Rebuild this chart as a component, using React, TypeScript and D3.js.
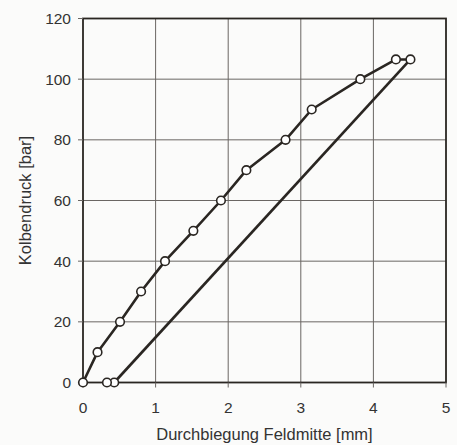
import React from "react";
import * as d3 from "d3";

const loadX = [0, 0.2, 0.51, 0.8, 1.13, 1.52, 1.9, 2.25, 2.79, 3.15, 3.82, 4.31, 4.51];
const loadY = [0, 10, 20, 30, 40, 50, 60, 70, 80, 90, 100, 106.5, 106.5];
const unloadX = [4.51, 0.43, 0.33];
const unloadY = [106.5, 0, 0];
const xTicks = [0, 1, 2, 3, 4, 5];
const yTicks = [0, 20, 40, 60, 80, 100, 120];
const xTitle = "Durchbiegung Feldmitte [mm]";
const yTitle = "Kolbendruck [bar]";

export default function App() {
  const W = 457, H = 445;
  const L = 83, R = 446, T = 18.5, B = 382.5;
  const x = d3.scaleLinear().domain([0, 5]).range([L, R]);
  const y = d3.scaleLinear().domain([0, 120]).range([B, T]);
  const line = d3.line<[number, number]>().x(d => x(d[0])).y(d => y(d[1]));
  const load: [number, number][] = loadX.map((v, i) => [v, loadY[i]]);
  const unload: [number, number][] = unloadX.map((v, i) => [v, unloadY[i]]);
  const ink = "#2a2622";
  const font = "'Liberation Sans', Arial, sans-serif";
  return (
    <svg width={W} height={H} style={{ position: "absolute", left: 0, top: 0, background: "#fbfbfa" }}>
      <rect x={0} y={0} width={W} height={H} fill="#fbfbfa" />
      {xTicks.slice(1, -1).map(t => (
        <line key={"gx" + t} x1={x(t)} x2={x(t)} y1={T} y2={B} stroke="#6a6663" strokeWidth={1} />
      ))}
      {yTicks.slice(1, -1).map(t => (
        <line key={"gy" + t} x1={L} x2={R} y1={y(t)} y2={y(t)} stroke="#6a6663" strokeWidth={1} />
      ))}
      <rect x={L} y={T} width={R - L} height={B - T} fill="none" stroke={ink} strokeWidth={1.8} />
      {xTicks.map(t => (
        <line key={"tx" + t} x1={x(t)} x2={x(t)} y1={B} y2={B + 5} stroke="#6a6663" strokeWidth={1} />
      ))}
      {yTicks.map(t => (
        <line key={"ty" + t} x1={L - 5} x2={L} y1={y(t)} y2={y(t)} stroke="#6a6663" strokeWidth={1} />
      ))}
      {xTicks.map(t => (
        <text key={"lx" + t} x={x(t)} y={413} textAnchor="middle" fontFamily={font} fontSize={15.5} fill="#333">{t}</text>
      ))}
      {yTicks.map(t => (
        <text key={"ly" + t} x={71} y={y(t)} dy="0.36em" textAnchor="end" fontFamily={font} fontSize={15.5} fill="#333">{t}</text>
      ))}
      <text x={(L + R) / 2} y={440} textAnchor="middle" fontFamily={font} fontSize={16.5} fill="#333">{xTitle}</text>
      <text transform={`translate(31,${(T + B) / 2}) rotate(-90)`} textAnchor="middle" fontFamily={font} fontSize={16.5} fill="#333">{yTitle}</text>
      <path d={line(load) || ""} fill="none" stroke={ink} strokeWidth={2.6} strokeLinejoin="round" />
      <path d={line(unload.slice(0, 2)) || ""} fill="none" stroke={ink} strokeWidth={2.6} />
      {load.map((d, i) => (
        <circle key={"cl" + i} cx={x(d[0])} cy={y(d[1])} r={4.3} fill="#fff" stroke={ink} strokeWidth={1.6} />
      ))}
      {unload.slice(1).map((d, i) => (
        <circle key={"cu" + i} cx={x(d[0])} cy={y(d[1])} r={4.3} fill="#fff" stroke={ink} strokeWidth={1.6} />
      ))}
    </svg>
  );
}
